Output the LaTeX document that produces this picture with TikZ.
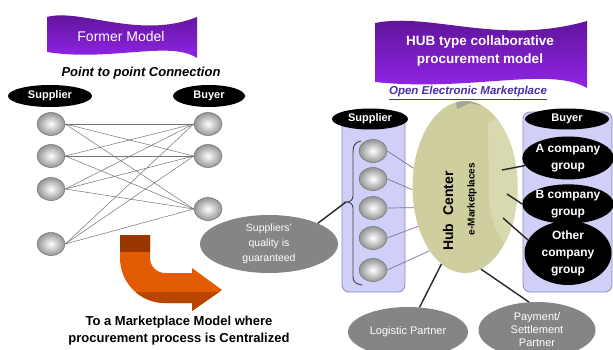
\documentclass[tikz,border=0pt]{standalone}
\usepackage{fontspec}
\setmainfont{Liberation Sans}
\usetikzlibrary{shapes.geometric}
\definecolor{lav}{HTML}{CFCFF7}
\definecolor{lavline}{HTML}{8C8CB4}
\definecolor{hubc}{HTML}{CECE9E}
\definecolor{hubl}{HTML}{D9D9AF}
\definecolor{hubcap}{HTML}{A5A597}
\definecolor{partner}{HTML}{858585}
\definecolor{purpA}{HTML}{5A1290}
\definecolor{purpB}{HTML}{9526EE}
\definecolor{oran}{HTML}{E35B00}
\definecolor{oranD}{HTML}{9A3600}
\definecolor{oranM}{HTML}{B84600}
\definecolor{linkc}{HTML}{8070A0}
\definecolor{omcol}{HTML}{4A2DA0}
\begin{document}
\begin{tikzpicture}[x=1pt,y=-1pt,
  sphere/.style={ellipse, minimum width=28pt, minimum height=23pt, inner sep=0pt,
    draw=black!55, line width=0.5pt, inner color=white, outer color=black!42},
  lbl/.style={ellipse, fill=black, text=white, inner sep=0pt,
    font=\fontsize{11}{13}\selectfont\bfseries},
  grp/.style={ellipse, fill=black, text=white, inner sep=0pt, align=center,
    minimum width=87pt, font=\fontsize{12}{17}\selectfont\bfseries},
  partnerell/.style={ellipse, fill=partner, text=white, inner sep=0pt, align=center,
    font=\fontsize{11}{14}\selectfont},
  column/.style={rectangle, rounded corners=7pt, fill=lav, draw=lavline,
    line width=0.8pt, inner sep=0pt},
  mesh/.style={draw=black!55, line width=0.5pt},
  spoke/.style={draw=linkc, line width=0.7pt},
  hublink/.style={draw=black!85, line width=1.4pt},
  banner/.style={top color=purpA, bottom color=purpB},
  bannertext/.style={text=white, align=center, inner sep=0pt}
]
\useasboundingbox[fill=white] (0,0) rectangle (613,350);

% ---------- Former model banner ----------
\path[banner] (47,17) .. controls (80,8) and (140,40) .. (197,17)
  -- (197,58) .. controls (170,40) and (110,62) .. (47,52) -- cycle;
\node[bannertext, font=\fontsize{14}{16}\selectfont] (fm) at (121,36) {Former Model};
\node[font=\fontsize{13}{15}\selectfont\bfseries\itshape, inner sep=0pt] (ptp) at (141,73)
  {Point to point Connection};

% ---------- left mesh ----------
\node[lbl, minimum width=84pt, minimum height=22pt] (lsup) at (50,96) {Supplier};
\node[lbl, minimum width=72pt, minimum height=22pt] (lbuy) at (209,96) {Buyer};

\node[sphere] (ls1) at (51,124) {};
\node[sphere] (ls2) at (51,156) {};
\node[sphere] (ls3) at (51,189) {};
\node[sphere] (ls4) at (51,244) {};
\node[sphere] (lb1) at (208,124) {};
\node[sphere] (lb2) at (208,156) {};
\node[sphere] (lb3) at (208,209) {};
\foreach \s in {ls1,ls2,ls3,ls4}{
  \foreach \b in {lb1,lb2,lb3}{
    \draw[mesh] (\s.east) -- (\b.west);
  }
}

% ---------- orange arrow ----------
\begin{scope}
\clip (120,235) -- (150,235) -- (150,258) .. controls (150,266.3) and (156.7,273) .. (165,273)
  -- (192,273) -- (192,268) -- (222,290) -- (192,311) -- (192,303) -- (165,303)
  .. controls (140.1,303) and (120,282.9) .. (120,258) -- cycle;
\fill[oran] (100,230) rectangle (240,320);
\fill[oranD] (100,230) rectangle (160,252);
\fill[oranM] (100,292) rectangle (240,320);
\end{scope}
\node[font=\fontsize{13}{17}\selectfont\bfseries, align=center, inner sep=0pt] (bottomtxt)
  at (179,331) {To a Marketplace Model where\\procurement process is Centralized};

% ---------- HUB banner ----------
\path[banner] (375,23) .. controls (430,12) and (500,46) .. (587,21)
  -- (587,88) .. controls (550,66) and (470,92) .. (375,82) -- cycle;
\node[bannertext, font=\fontsize{13.5}{18}\selectfont\bfseries] (hubtitle) at (480,51)
  {HUB type collaborative\\procurement model};
\node[font=\fontsize{11.5}{13}\selectfont\bfseries\itshape, text=omcol, inner sep=1pt] (oem)
  at (468,93) {\underline{Open Electronic Marketplace}};

% ---------- columns ----------
\node[column, minimum width=63pt, minimum height=180pt] (scol) at (373.5,202) {};
\node[column, minimum width=89pt, minimum height=180pt] (bcol) at (567.5,202) {};
\node[lbl, minimum width=76pt, minimum height=21pt] (rsup) at (370,119) {Supplier};
\node[lbl, minimum width=84pt, minimum height=21pt] (rbuy) at (567,119) {Buyer};

% supplier spheres
\node[sphere] (rs1) at (373,151) {};
\node[sphere] (rs2) at (373,179) {};
\node[sphere] (rs3) at (373,208) {};
\node[sphere] (rs4) at (373,238) {};
\node[sphere] (rs5) at (373,270) {};

% brace
\coordinate (bt) at (346,202);
\draw[black!75, line width=0.9pt] (361,141) .. controls (355,142) and (353,146) .. (353,152)
  -- (353,196) .. controls (353,200) and (350,202) .. (bt)
  .. controls (350,202) and (353,204) .. (353,208) -- (353,277)
  .. controls (353,282) and (356,284) .. (362,285);

% suppliers' quality
\node[partnerell, minimum width=138pt, minimum height=58pt, font=\fontsize{10.5}{15}\selectfont]
  (sq) at (269,244) {Suppliers'\\quality is\\guaranteed};
\draw[hublink] (bt) -- (sq.23);

% buyer groups
\node[grp, minimum height=43pt] (bA) at (568,158) {A company\\group};
\node[grp, minimum height=39pt] (bB) at (568,204) {B company\\group};
\node[grp, minimum height=58pt] (bC) at (568,253) {Other\\company\\group};

% ---------- hub ----------
\node[ellipse, fill=hubc, minimum width=105pt, minimum height=172pt, inner sep=0pt] (hub)
  at (465,187) {};
\begin{scope}
\clip (465,187) ellipse [x radius=52.5, y radius=86];
\fill[hubl] (488,124) -- (500,115) -- (530,115) -- (530,252) -- (512,252)
  .. controls (498,238) and (491,222) .. (489,200) -- cycle;
\fill[hubcap] (455,95) -- (486,95) -- (483,106) -- (470,103) -- (457,109) -- cycle;
\end{scope}
\node[rotate=90, font=\fontsize{14}{16}\selectfont\bfseries, inner sep=0pt] (hubtxt)
  at (448,211) {Hub\ \ Center};
\node[rotate=90, font=\fontsize{10}{12}\selectfont\bfseries, inner sep=0pt] (emk)
  at (472,199) {e-Marketplaces};

\draw[spoke] (rs1.east) -- (hub.160);
\draw[spoke] (rs2.east) -- (hub.183);
\draw[spoke] (rs3.east) -- (hub.202);
\draw[spoke] (rs4.east) -- (hub.220);
\draw[spoke] (rs5.east) -- (hub.241);

\coordinate (hA) at (502,170);
\coordinate (hB) at (507,194);
\coordinate (hC) at (503,218);
\draw[hublink] (hA) -- (bA.190);
\draw[hublink] (hB) -- (bB.180);
\draw[hublink] (hC) -- (bC.162);

% partners
\node[partnerell, minimum width=120pt, minimum height=50pt] (log) at (408,332) {Logistic Partner};
\node[partnerell, minimum width=117pt, minimum height=56pt, font=\fontsize{11}{13}\selectfont]
  (pay) at (537,330) {Payment/\\Settlement\\Partner};
\draw[hublink] (hub.253) -- (log.65);
\draw[hublink] (hub.281) -- (pay.106);
\end{tikzpicture}
\end{document}
